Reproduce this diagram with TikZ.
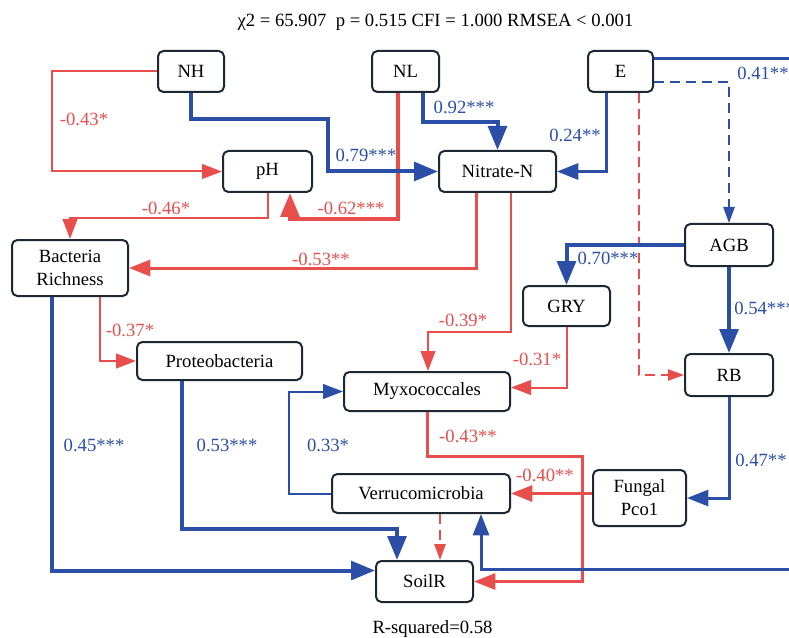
\documentclass[tikz,border=0pt]{standalone}
\usepackage{fontspec}
\setmainfont{Liberation Serif}
\usetikzlibrary{arrows.meta,calc}

\definecolor{posblue}  {HTML}{2B4EA6}
\definecolor{negred}   {HTML}{E84E4B}
\definecolor{boxborder}{HTML}{1E2832}

\newcommand{\px}{0.75pt}

\tikzset{
  var/.style={
    rectangle, rounded corners=4pt,
    fill=white, draw=boxborder, line width=1.5pt,
    inner sep=0pt, align=center,
    font=\fontsize{14}{17.25}\selectfont
  },
  coef/.style={inner sep=0pt, font=\fontsize{14}{17}\selectfont},
  effpos/.style={draw=posblue, text=posblue},
  effneg/.style={draw=negred, text=negred},
  lnwide/.style={line width=3pt, -{Triangle[length=18pt,width=14pt]}},
  lnmid/.style={line width=2.25pt, -{Triangle[length=16pt,width=12pt]}},
  lnslim/.style={line width=1.5pt, -{Triangle[length=15pt,width=11pt]}},
  lndash/.style={line width=1.1pt, dash pattern=on 7.5pt off 4.5pt,
    -{Triangle[length=12pt,width=8.5pt]}}
}

\begin{document}
\begin{tikzpicture}[x=\px, y=-\px]
\useasboundingbox (0,0) rectangle (789,638);
\clip (0,0) rectangle (789,638);

%% ── fit indices ─────────────────────────────────────────────────
\node[coef] (fit) at (435.5,22) {χ2 = 65.907\ \ p = 0.515 CFI = 1.000 RMSEA < 0.001};
\node[coef] (rsq) at (432.5,629) {R-squared=0.58};

%% ── variables ───────────────────────────────────────────────────
\node[var, minimum width=66*\px,  minimum height=41*\px] (NH)      at (191,71.5)    {NH};
\node[var, minimum width=67*\px,  minimum height=41*\px] (NL)      at (405.5,71.5)  {NL};
\node[var, minimum width=65*\px,  minimum height=41*\px] (E)       at (620.5,71.5)  {E};
\node[var, minimum width=89*\px,  minimum height=41*\px] (pH)      at (267.5,171.5) {pH};
\node[var, minimum width=117*\px, minimum height=41*\px] (nitrate) at (497.5,171.5) {Nitrate-N};
\node[var, minimum width=116*\px, minimum height=56*\px] (bacteria) at (70,268)     {Bacteria\\Richness};
\node[var, minimum width=88*\px,  minimum height=42*\px] (AGB)     at (729,245)     {AGB};
\node[var, minimum width=87*\px,  minimum height=40*\px] (GRY)     at (566.5,306)   {GRY};
\node[var, minimum width=165*\px, minimum height=38*\px] (proteo)  at (219.5,361)   {Proteobacteria};
\node[var, minimum width=166*\px, minimum height=39*\px] (myxo)    at (427,391.5)   {Myxococcales};
\node[var, minimum width=88*\px,  minimum height=42*\px] (RB)      at (729,375)     {RB};
\node[var, minimum width=178*\px, minimum height=39*\px] (verruco) at (421,493.5)   {Verrucomicrobia};
\node[var, minimum width=93*\px,  minimum height=56*\px] (fungal)  at (639.5,498)   {Fungal\\Pco1};
\node[var, minimum width=97*\px,  minimum height=41*\px] (soilR)   at (424.5,581.5) {SoilR};

%% ── free ends at the cut right edge ─────────────────────────────
\coordinate (offtop) at (810,59);
\coordinate (offbot) at (810,569);

%% ── negative paths ──────────────────────────────────────────────
\draw[effneg, lnslim] (NH.west) -- (52,71.5) |- (pH.west);
\draw[effneg, lnwide] ($(NL.south)+(-7.5,0)$) |- (290,219) -- ($(pH.south)+(22.5,0)$);
\draw[effneg, lnslim] (pH.south) |- (70,218.5) -- (bacteria.north);
\draw[effneg, lnmid]  ($(nitrate.south)+(-21,0)$) |- (bacteria.east);
\draw[effneg, lnslim] ($(nitrate.south)+(13.5,0)$) |- (428,331.5) -- ($(myxo.north)+(1,0)$);
\draw[effneg, lnslim] ($(bacteria.south)+(30,0)$) |- (proteo.west);
\draw[effneg, lnslim] (GRY.south) |- ($(myxo.east)+(0,-4)$);
\draw[effneg, lnmid]  (myxo.south) |- (582,456.5) |- (soilR.east);
\draw[effneg, lnmid]  (fungal.west |- verruco.east) -- (verruco.east);
\draw[effneg, lndash] ($(E.south)+(18.5,0)$) |- (RB.west);
\draw[effneg, lndash] ($(verruco.south)+(19,0)$) -- ($(soilR.north)+(15.5,0)$);

%% ── positive paths ──────────────────────────────────────────────
\draw[effpos, lnwide] (NH.south) |- (328,119) |- (nitrate.west);
\draw[effpos, lnwide] ($(NL.south)+(17.5,0)$) |- (497.5,122) -- (nitrate.north);
\draw[effpos, lnmid]  ($(E.south)+(-14.5,0)$) |- (nitrate.east);
\draw[effpos, lnmid, -] ($(E.east)+(0,-12.5)$) -- (offtop);
\draw[effpos, lndash] ($(E.east)+(0,10.5)$) -| (AGB.north);
\draw[effpos, lnwide] (AGB.west) -| (GRY.north);
\draw[effpos, lnwide] (AGB.south) -- (RB.north);
\draw[effpos, lnmid]  (RB.south) |- (fungal.east);
\draw[effpos, lnwide] ($(bacteria.south)+(-18,0)$) |- ($(soilR.west)+(0,-11)$);
\draw[effpos, lnwide] ($(proteo.south)+(-37.5,0)$) |- (397,529) -- ($(soilR.north)+(-27.5,0)$);
\draw[effpos, lnslim] (verruco.west) -- (289,493.5) |- (myxo.west);
\draw[effpos, lnmid]  (offbot) -| ($(verruco.south)+(60,0)$);

%% ── coefficients ────────────────────────────────────────────────
\node[coef, text=negred] (cNHpH)   at (84,119)  {-0.43*};
\node[coef, text=posblue] (cNHno)  at (366,155) {0.79***};
\node[coef, text=negred] (cpHbr)   at (166,208) {-0.46*};
\node[coef, text=negred] (cNLpH)   at (351,208) {-0.62***};
\node[coef, text=negred] (cnobr)   at (321,259) {-0.53**};
\node[coef, text=posblue] (cNLno)  at (464,107) {0.92***};
\node[coef, text=posblue] (cEno)   at (575,135) {0.24**};
\node[coef, text=posblue, anchor=west] (cEoff) at (737,73) {0.41**};
\node[coef, text=posblue] (cAGBg)  at (608,258) {0.70***};
\node[coef, text=posblue, anchor=west] (cAGBr) at (734,308) {0.54***};
\node[coef, text=negred] (cnomx)   at (463,320) {-0.39*};
\node[coef, text=negred] (cGRYmx)  at (537,359) {-0.31*};
\node[coef, text=negred] (cmxsr)   at (468,436) {-0.43**};
\node[coef, text=negred] (cfgvr)   at (545,475) {-0.40**};
\node[coef, text=posblue, anchor=west] (cRBfg) at (735,460) {0.47**};
\node[coef, text=negred] (cbrpr)   at (130,330) {-0.37*};
\node[coef, text=posblue] (cbrsr)  at (94,445)  {0.45***};
\node[coef, text=posblue] (cprsr)  at (227,445) {0.53***};
\node[coef, text=posblue] (cvrmx)  at (328,445) {0.33*};
\end{tikzpicture}
\end{document}
